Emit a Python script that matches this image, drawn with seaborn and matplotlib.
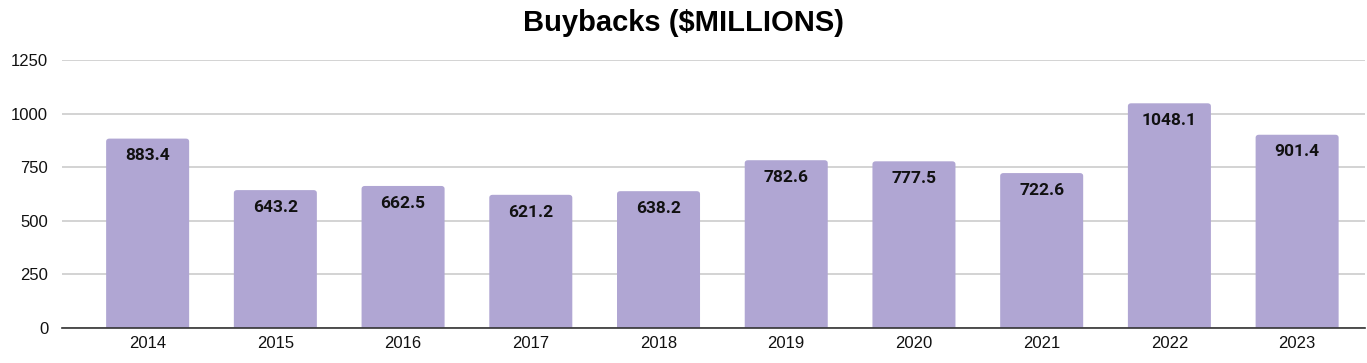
import pandas as pd
import seaborn as sns
import matplotlib.pyplot as plt
from matplotlib.patches import FancyBboxPatch

# Data
years = ['2014', '2015', '2016', '2017', '2018', '2019', '2020', '2021', '2022', '2023']
buybacks = [883.4, 643.2, 662.5, 621.2, 638.2, 782.6, 777.5, 722.6, 1048.1, 901.4]
yticks = [0, 250, 500, 750, 1000, 1250]

df = pd.DataFrame({'Year': years, 'Buybacks': buybacks})

sns.set_theme(style='white')
plt.rcParams['font.family'] = ['Liberation Sans', 'DejaVu Sans']

fig = plt.figure(figsize=(13.67, 3.63), dpi=100)
ax = fig.add_axes([0.0454, 0.0964, 0.953, 0.7383])

bar_color = '#b0a6d3'
sns.barplot(data=df, x='Year', y='Buybacks', color=bar_color, saturation=1,
            width=0.65, linewidth=0, ax=ax, zorder=3)

# swap plain rectangles for ones with slightly rounded tops
for p in list(ax.patches):
    x, w, h = p.get_x(), p.get_width(), p.get_height()
    rb = FancyBboxPatch((x, -30), w, h + 30,
                        boxstyle='round,pad=0,rounding_size=0.025',
                        mutation_aspect=560, facecolor=bar_color,
                        edgecolor='none', zorder=3, clip_on=True)
    p.remove()
    ax.add_patch(rb)

ax.set_ylim(0, 1250)
ax.set_xlim(-0.67, 9.53)
ax.set_yticks(yticks)
ax.yaxis.grid(True, color='#cccccc', linewidth=1.2, zorder=0)
ax.set_axisbelow(True)
for s in ['top', 'right', 'left']:
    ax.spines[s].set_visible(False)
ax.spines['bottom'].set_color('#333333')
ax.spines['bottom'].set_linewidth(1.2)
ax.spines['bottom'].set_zorder(4)
ax.tick_params(axis='both', length=0, labelsize=12, colors='#111111')
ax.tick_params(axis='y', pad=10)
ax.tick_params(axis='x', pad=6)
ax.set_xlabel('')
ax.set_ylabel('')

# value labels inside the top of each bar
for i, v in enumerate(buybacks):
    ax.annotate(f'{v}', (i, v), xytext=(0, -7), textcoords='offset points',
                ha='center', va='top', fontsize=12.5, fontweight='bold',
                family=['Roboto', 'DejaVu Sans'], color='#111111', zorder=5)

fig.suptitle('Buybacks ($MILLIONS)', x=0.5, y=0.975, fontsize=21, fontweight='bold',
             color='black')

plt.savefig('out.png', dpi=100)
